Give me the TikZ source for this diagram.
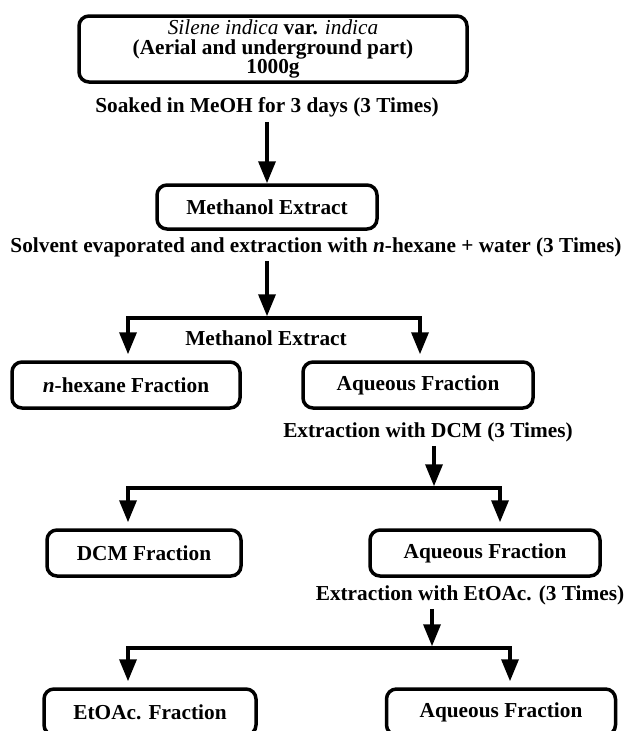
\documentclass[tikz,border=0pt]{standalone}
\usepackage{fontspec}
\setmainfont{Liberation Serif}[
  UprightFont={Liberation Serif},
  BoldFont={Liberation Serif Bold},
  ItalicFont={Liberation Serif Italic},
  BoldItalicFont={Liberation Serif Bold Italic}]
\usetikzlibrary{arrows.meta,calc}
\begin{document}
\begin{tikzpicture}[x=1pt,y=-1pt,
  txt/.style={font=\bfseries\fontsize{21.3}{19.8}\selectfont},
  box/.style={txt, draw, line width=3.5pt, rounded corners=10pt, minimum height=46pt, inner sep=0pt, align=center},
  lbl/.style={txt, inner sep=0pt},
  arr/.style={line width=3.5pt, -{Triangle[width=17pt,length=22pt]}},
  arrtwo/.style={line width=3.5pt, line join=miter, {Triangle[width=17pt,length=22pt]}-{Triangle[width=17pt,length=22pt]}, shorten <=6pt, shorten >=6pt}
]
\useasboundingbox (0,0) rectangle (632,731);

\node[box, minimum width=388pt, minimum height=66pt] (top) at (273,49)
  {{\mdseries\itshape Silene indica} var. {\mdseries\itshape indica}\\(Aerial and underground part)\\1000g};
\node[lbl] (soak) at (267,107) {Soaked in MeOH for 3 days (3 Times)};
\node[box, minimum width=220pt, minimum height=44pt] (me) at (267,207) {Methanol Extract};
\node[lbl] (solv) at (316,247) {Solvent evaporated and extraction with \textit{n}-hexane + water (3 Times)};

\coordinate (j1L) at (128,318);
\coordinate (j1R) at (420,318);
\node[lbl] (metwo) at (266,338) {Methanol Extract};
\node[box, minimum width=228pt] (hex) at (126,385) {\textit{n}-hexane Fraction};
\node[box, minimum width=230pt] (aqone) at (418,385) {Aqueous Fraction};

\node[lbl] (dcmt) at (428,432) {Extraction with DCM (3 Times)};
\coordinate (j2L) at (128,488);
\coordinate (j2M) at (434,488);
\coordinate (j2R) at (500,488);
\node[box, minimum width=194pt] (dcm) at (144,553) {DCM Fraction};
\node[box, minimum width=230pt] (aqtwo) at (485,553) {Aqueous Fraction};

\node[lbl] (ett) at (470,595) {Extraction with EtOAc. (3 Times)};
\coordinate (j3L) at (128,648);
\coordinate (j3M) at (432,648);
\coordinate (j3R) at (510,648);
\node[box, minimum width=212pt] (et) at (150,712) {EtOAc. Fraction};
\node[box, minimum width=229pt] (aqthree) at (501,712) {Aqueous Fraction};

% connectors
\draw[arr, shorten <=5pt] (soak.south) -- (me.north);
\draw[arr, shorten <=4pt, shorten >=1.75pt] (solv.south -| me.south) -- (me.south |- j1L);
\draw[arrtwo] (j1L |- hex.north) -- (j1L) -- (j1R) -- (j1R |- aqone.north);

\draw[arr, shorten <=4pt, shorten >=1.75pt] (dcmt.south -| j2M) -- (j2M);
\draw[arrtwo] (j2L |- dcm.north) -- (j2L) -- (j2R) -- (j2R |- aqtwo.north);

\draw[arr, shorten <=4pt, shorten >=1.75pt] (ett.south -| j3M) -- (j3M);
\draw[arrtwo] (j3L |- et.north) -- (j3L) -- (j3R) -- (j3R |- aqthree.north);
\end{tikzpicture}
\end{document}
